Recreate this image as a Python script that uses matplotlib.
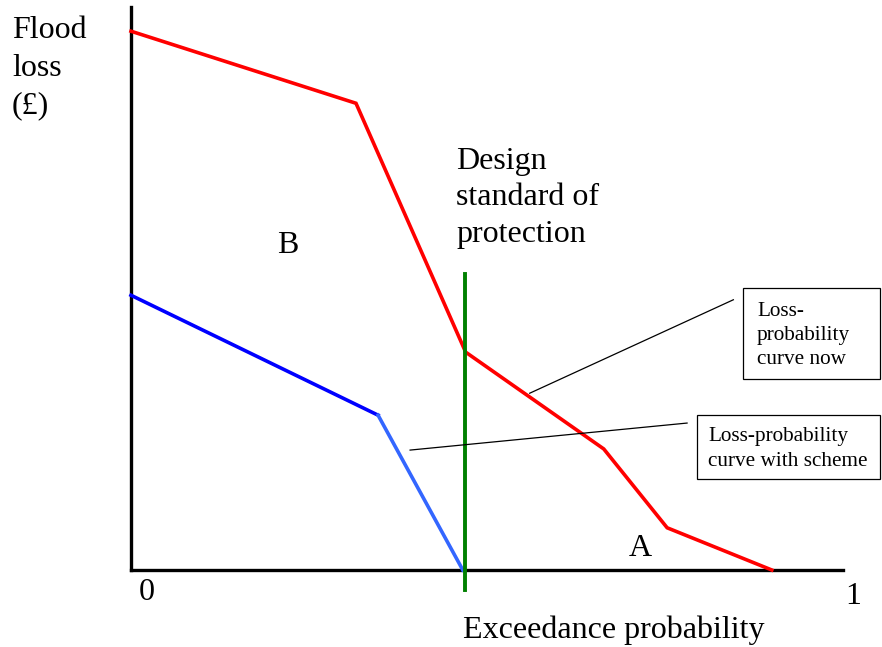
import matplotlib.pyplot as plt

plt.rcParams['font.family'] = ['Liberation Serif', 'DejaVu Serif']

# exceedance probability (0..1 along the axis) and flood loss (relative)
now_prob = [0.0, 0.316, 0.470, 0.664, 0.753, 0.900]
now_loss = [0.957, 0.829, 0.387, 0.215, 0.075, 0.0]

scheme_prob = [0.0, 0.347, 0.466]
scheme_loss = [0.488, 0.275, 0.0]

design_prob = 0.469
design_loss = (-0.036, 0.526)

# leader lines from the callout boxes to the curves
leader_now = ([0.846, 0.560], [0.480, 0.314])
leader_scheme = ([0.781, 0.392], [0.261, 0.213])

W, H = 882, 647
fig = plt.figure(figsize=(8.82, 6.47), dpi=100)
ax = fig.add_axes([131 / W, (H - 570) / H, 712 / W, 563 / H])
ax.set_xlim(0, 1)
ax.set_ylim(0, 1)
for side in ('top', 'right'):
    ax.spines[side].set_visible(False)
for side in ('left', 'bottom'):
    ax.spines[side].set_linewidth(2.4)
    ax.spines[side].set_color('black')
ax.set_xticks([])
ax.set_yticks([])

ax.plot(now_prob, now_loss, color='#ff0000', lw=2.6, solid_joinstyle='miter', clip_on=False, zorder=3)
ax.plot(scheme_prob[:2], scheme_loss[:2], color='#0000ff', lw=2.6, clip_on=False, zorder=3)
ax.plot(scheme_prob[1:], scheme_loss[1:], color='#3366ff', lw=2.6, clip_on=False, zorder=3)
ax.plot([design_prob, design_prob], design_loss, color='#008000', lw=2.8, clip_on=False, zorder=4)

ax.plot(*leader_now, color='black', lw=0.9, clip_on=False, zorder=5)
ax.plot(*leader_scheme, color='black', lw=0.9, clip_on=False, zorder=5)

big = 23
fig.text(12 / W, 1 - 68 / H, 'Flood\nloss\n(£)', fontsize=big, va='center', ha='left', linespacing=1.4)
fig.text(456 / W, 1 - 198 / H, 'Design\nstandard of\nprotection', fontsize=big, va='center', ha='left',
         linespacing=1.34)
fig.text(288 / W, 1 - 245 / H, 'B', fontsize=big, va='center', ha='center')
fig.text(640 / W, 1 - 548 / H, 'A', fontsize=big, va='center', ha='center')
fig.text(147 / W, 1 - 592 / H, '0', fontsize=big, va='center', ha='center')
fig.text(853 / W, 1 - 597 / H, '1', fontsize=big, va='center', ha='center')
fig.text(463 / W, 1 - 630 / H, 'Exceedance probability', fontsize=big, va='center', ha='left')

# callout boxes
for (x0, y0, x1, y1), pad, label in [((743, 288, 880, 379), 14, 'Loss-\nprobability\ncurve now'),
                                     ((697, 415, 880, 479), 11, 'Loss-probability\ncurve with scheme')]:
    rect = plt.Rectangle((x0 / W, 1 - y1 / H), (x1 - x0) / W, (y1 - y0) / H,
                         transform=fig.transFigure, fill=False, edgecolor='black', lw=0.9)
    fig.add_artist(rect)
    fig.text((x0 + pad) / W, 1 - ((y0 + y1) / 2 + 2) / H, label, fontsize=15.3, va='center', ha='left',
             linespacing=1.38)

fig.savefig('out.png', dpi=100, facecolor='white')
